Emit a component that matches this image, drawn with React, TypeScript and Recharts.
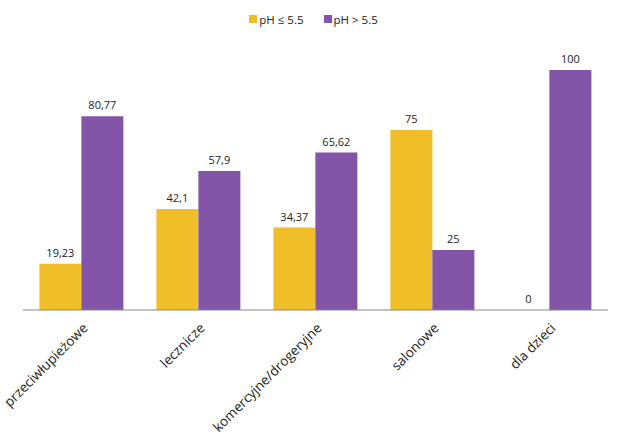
import { Bar, BarChart, LabelList, Legend, XAxis, YAxis } from "recharts";

const categories = ["przeciwłupieżowe", "lecznicze", "komercyjne/drogeryjne", "salonowe", "dla dzieci"];
const lowPh = [19.23, 42.1, 34.37, 75, 0];
const highPh = [80.77, 57.9, 65.62, 25, 100];

const data = categories.map((name, i) => ({ name, low: lowPh[i], high: highPh[i] }));

const YELLOW = "#F0BE28";
const PURPLE = "#8255A8";
const FONT = "'Open Sans', sans-serif";

function AngledTick({ x, y, payload }: any) {
  const tx = x + 7;
  const ty = y + 11;
  return (
    <text
      x={tx}
      y={ty}
      transform={`rotate(-45 ${tx} ${ty})`}
      textAnchor="end"
      fontSize={13.5}
      fontFamily={FONT}
      fill="#222"
    >
      {payload.value}
    </text>
  );
}

// draws the value above the bar, also for a zero-height bar
function ValueLabel({ x, y, width, value }: any) {
  return (
    <text
      x={x + width / 2}
      y={y - 7}
      textAnchor="middle"
      fontSize={11}
      fontFamily={FONT}
      fill="#222"
    >
      {String(value).replace(".", ",")}
    </text>
  );
}

function LegendContent() {
  const items = [
    { color: YELLOW, label: "pH ≤ 5.5" },
    { color: PURPLE, label: "pH > 5.5" },
  ];
  return (
    <div
      style={{
        display: "flex",
        justifyContent: "center",
        height: 20,
        paddingRight: 4,
        fontFamily: FONT,
        fontSize: 11.5,
        color: "#222",
      }}
    >
      {items.map((it) => (
        <div key={it.label} style={{ display: "flex", alignItems: "center", marginLeft: 10, marginRight: 10 }}>
          <span style={{ width: 8, height: 8, background: it.color, marginRight: 2, display: "inline-block" }} />
          <span>{it.label}</span>
        </div>
      ))}
    </div>
  );
}

export default function App() {
  return (
    <div style={{ position: "absolute", left: 0, top: 0, background: "#fff" }}>
      <BarChart
        width={618}
        height={435}
        data={data}
        margin={{ top: 50, right: 10, bottom: 0, left: 23 }}
        barCategoryGap="14%"
        barGap={0}
      >
        <Legend verticalAlign="top" content={<LegendContent />} wrapperStyle={{ top: 9 }} />
        <YAxis hide domain={[0, 100]} />
        <XAxis
          dataKey="name"
          interval={0}
          tickLine={false}
          axisLine={{ stroke: "#888" }}
          height={125}
          tick={<AngledTick />}
        />
        <Bar dataKey="low" fill={YELLOW} minPointSize={0.01} isAnimationActive={false}>
          <LabelList dataKey="low" content={<ValueLabel />} />
        </Bar>
        <Bar dataKey="high" fill={PURPLE} isAnimationActive={false}>
          <LabelList dataKey="high" content={<ValueLabel />} />
        </Bar>
      </BarChart>
    </div>
  );
}
